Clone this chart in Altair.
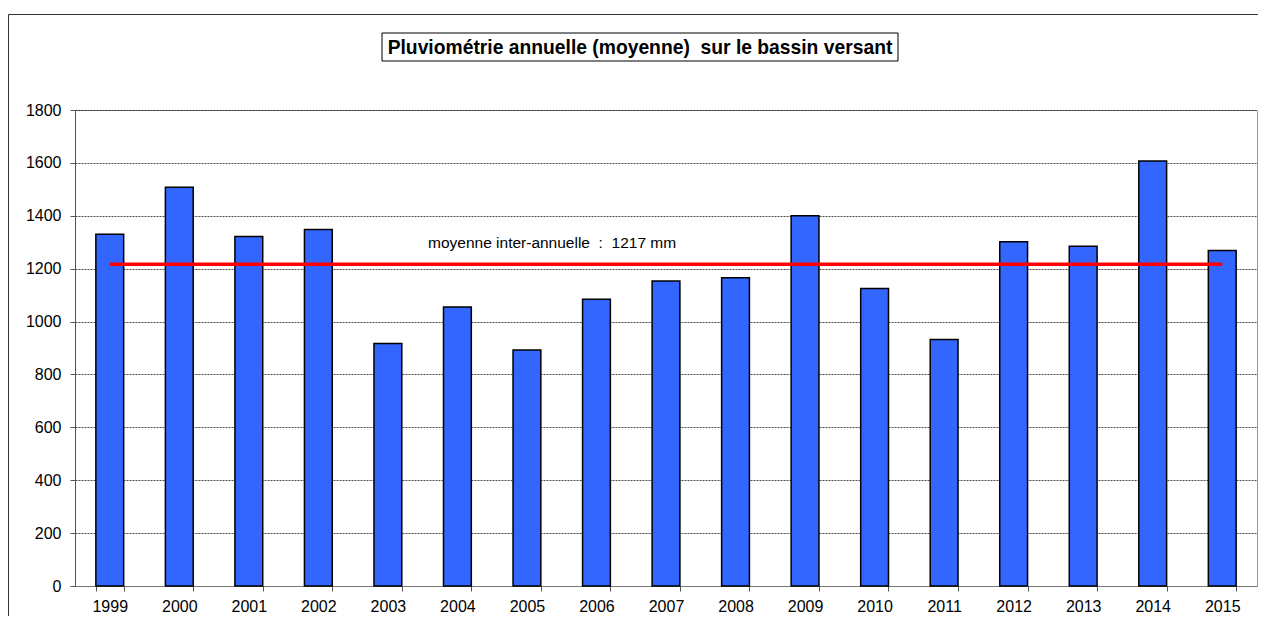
import altair as alt
import pandas as pd

# ---- data ----
years = ["1999", "2000", "2001", "2002", "2003", "2004", "2005", "2006", "2007",
         "2008", "2009", "2010", "2011", "2012", "2013", "2014", "2015"]
rain = [1330, 1508, 1322, 1348, 917, 1055, 892, 1084, 1153,
        1166, 1400, 1125, 932, 1302, 1285, 1607, 1269]
mean_value = 1217
y_ticks = [0, 200, 400, 600, 800, 1000, 1200, 1400, 1600, 1800]
title_text = "Pluviométrie annuelle (moyenne) \u00a0sur le bassin versant"
note_text = "moyenne inter-annuelle \u00a0: \u00a01217 mm"

W, H = 1182, 476
FONT = "Liberation Sans"

df = pd.DataFrame({"year": years, "rain": rain})
mean_df = pd.DataFrame({"year": [years[0], years[-1]], "rain": [mean_value, mean_value]})
one = pd.DataFrame({"t": [note_text], "title": [title_text]})

xscale = alt.Scale(domain=years, paddingInner=0.6, paddingOuter=0.3)
yscale = alt.Scale(domain=[0, 1800], nice=False)

frame_top = alt.Chart(one).mark_rule(stroke="#333", strokeWidth=1).encode(
    x=alt.value(-66.5), x2=alt.value(W + 2), y=alt.value(-95.5)
)
frame_left = alt.Chart(one).mark_rule(stroke="#333", strokeWidth=1).encode(
    x=alt.value(-66.5), y=alt.value(-95.5), y2=alt.value(H + 40)
)

bars = alt.Chart(df).mark_bar(color="#3366FF", stroke="black", strokeWidth=1.5).encode(
    x=alt.X("year:N", scale=xscale, sort=years,
            axis=alt.Axis(title=None, labelAngle=0, tickBand="extent", grid=False,
                          tickSize=5, labelPadding=7, domainColor="#777", tickColor="#555")),
    y=alt.Y("rain:Q", scale=yscale,
            axis=alt.Axis(title=None, values=y_ticks, format="d", grid=True,
                          gridColor="black", gridDash=[2, 1], gridWidth=0.7,
                          tickSize=5, labelPadding=9,
                          domainColor="#555", tickColor="#555")),
)

mean_line = alt.Chart(mean_df).mark_line(color="#FF0000", strokeWidth=3.5).encode(
    x=alt.X("year:N", scale=xscale, sort=years),
    y=alt.Y("rain:Q", scale=yscale),
)

note = alt.Chart(one).mark_text(align="left", baseline="middle", fontSize=15.5,
                                font=FONT, color="black").encode(
    x=alt.value(353), y=alt.value(133), text="t:N"
)

title_box = alt.Chart(one).mark_rect(fill="white", stroke="black", strokeWidth=1).encode(
    x=alt.value(307), x2=alt.value(823), y=alt.value(-77), y2=alt.value(-49)
)
title = alt.Chart(one).mark_text(align="center", baseline="middle", fontSize=19.3,
                                 fontWeight="bold", font=FONT, color="black").encode(
    x=alt.value(565), y=alt.value(-62), text="title:N"
)

chart = alt.layer(frame_top, frame_left, bars, mean_line, note, title_box, title).properties(
    width=W, height=H,
    autosize=alt.AutoSizeParams(type="none"),
    padding={"left": 67, "top": 102, "right": 1, "bottom": 30},
).configure_view(stroke="#999").configure_axis(
    labelFont=FONT, labelFontSize=16, labelColor="black"
)

chart.save("out.html", embed_options={"renderer": "svg", "actions": False})
